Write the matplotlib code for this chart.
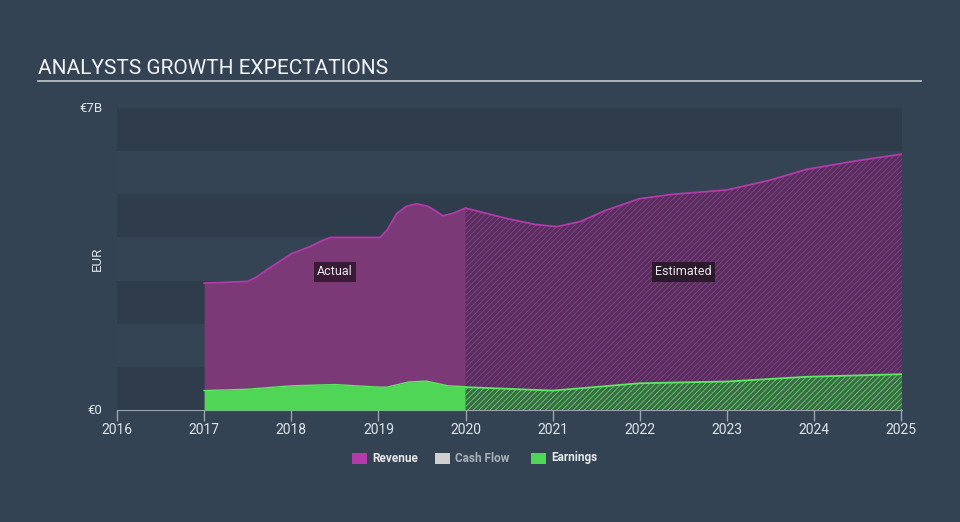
import matplotlib
matplotlib.use('Agg')
import matplotlib.pyplot as plt
from matplotlib.patches import Rectangle

plt.rcParams['font.family'] = ['Roboto', 'DejaVu Sans']
plt.rcParams['hatch.linewidth'] = 0.6

# values (EUR billions)
rev_actual_x = [2017.0, 2017.5, 2017.6, 2017.75, 2018.0, 2018.22, 2018.35, 2018.45, 2019.02,
                2019.1, 2019.21, 2019.32, 2019.44, 2019.57, 2019.63, 2019.74, 2019.86, 2020.0]
rev_actual_y = [2.94, 2.98, 3.08, 3.29, 3.62, 3.79, 3.92, 4.0, 4.0,
                4.17, 4.55, 4.72, 4.78, 4.72, 4.65, 4.5, 4.56, 4.68]
rev_est_x = [2020.0, 2020.47, 2020.8, 2021.05, 2021.32, 2021.6, 2022.0, 2022.38, 2023.0,
             2023.5, 2023.92, 2024.5, 2025.01]
rev_est_y = [4.68, 4.44, 4.3, 4.25, 4.37, 4.62, 4.9, 5.0, 5.1, 5.33, 5.58, 5.78, 5.93]

earn_actual_x = [2017.0, 2017.49, 2018.0, 2018.5, 2019.0, 2019.1, 2019.35, 2019.55, 2019.8, 2020.0]
earn_actual_y = [0.45, 0.48, 0.56, 0.59, 0.53, 0.53, 0.65, 0.67, 0.56, 0.54]
earn_est_x = [2020.0, 2021.0, 2021.3, 2022.0, 2023.0, 2023.92, 2025.01]
earn_est_y = [0.53, 0.45, 0.50, 0.62, 0.66, 0.77, 0.83]

years = list(range(2016, 2026))
legend_items = ['Revenue', 'Cash Flow', 'Earnings']

bg = '#334354'
band_dark = '#2e3c4b'
band_light = '#344455'
purple = '#7b3977'
purple_line = '#b53aa9'
green = '#50d656'
green_line = '#5ce861'

fig = plt.figure(figsize=(9.6, 5.22), dpi=100)
fig.patch.set_facecolor(bg)
ax = fig.add_axes([117 / 960, 112 / 522, 785 / 960, 302 / 522])
ax.set_facecolor(bg)

# horizontal bands
for i in range(7):
    ax.axhspan(i, i + 1, color=band_dark if i % 2 == 0 else band_light, lw=0, zorder=0)

# actual
ax.fill_between(rev_actual_x, 0, rev_actual_y, color=purple, lw=0, zorder=2)
ax.plot(rev_actual_x, rev_actual_y, color=purple_line, lw=1.3, zorder=3)
ax.fill_between(earn_actual_x, 0, earn_actual_y, color=green, lw=0, zorder=4)
ax.plot(earn_actual_x, earn_actual_y, color=green_line, lw=1.0, zorder=5)

# estimated (hatched)
ax.fill_between(rev_est_x, 0, rev_est_y, facecolor='#572f5e', edgecolor='#8c3d88',
                hatch='//////', lw=0, zorder=2)
ax.plot(rev_est_x, rev_est_y, color=purple_line, lw=1.3, zorder=3)
ax.fill_between(earn_est_x, 0, earn_est_y, facecolor='#3e6a4a', edgecolor='#55d95b',
                hatch='//////', lw=0, zorder=4)
ax.plot(earn_est_x, earn_est_y, color=green_line, lw=1.3, zorder=5)

ax.set_xlim(2016, 2025.01)
ax.set_ylim(0, 7)

for s in ['top', 'right', 'left']:
    ax.spines[s].set_visible(False)
ax.spines['bottom'].set_color('#9aa4ae')
ax.set_xticks(years)
ax.set_xticklabels([str(y) for y in years])
ax.tick_params(axis='x', colors='#9aa4ae', length=8, width=1, labelcolor='#e0e4e8',
               labelsize=10, pad=1)
ax.set_yticks([])

ax.text(2016 - 0.17, 7, '€7B', color='#e0e4e8', fontsize=9.5, ha='right', va='center')
ax.text(2016 - 0.17, 0, '€0', color='#e0e4e8', fontsize=9.5, ha='right', va='center')
ax.text(2016 - 0.15, 3.5, 'EUR', color='#e0e4e8', fontsize=9.5, ha='right', va='center',
        rotation=90)

ax.text(2018.5, 3.2, 'Actual', color='#e8e8e8', fontsize=9, ha='center', va='center', zorder=6,
        bbox=dict(boxstyle='square,pad=0.25', fc='#3a1b37', ec='none'))
ax.text(2022.5, 3.2, 'Estimated', color='#e8e8e8', fontsize=9, ha='center', va='center',
        zorder=6, bbox=dict(boxstyle='square,pad=0.25', fc='#2b1a2c', ec='none'))

# title and underline
fig.text(38 / 960, 1 - 68 / 522, 'ANALYSTS GROWTH EXPECTATIONS', color='#f0f2f4',
         fontsize=15, ha='left', va='center')
fig.add_artist(plt.Line2D([38 / 960, 921 / 960], [1 - 81 / 522, 1 - 81 / 522],
                          color='#b8bec5', lw=1.3))

# legend
leg_colors = [purple_line, '#d0d0d0', green]
leg_text_colors = ['#e8e8e8', '#a8b0b8', '#e8e8e8']
leg_x = [352, 435, 531]
for name, c, tc, lx in zip(legend_items, leg_colors, leg_text_colors, leg_x):
    fig.add_artist(Rectangle((lx / 960, 1 - 464 / 522), 15 / 960, 11 / 522,
                             facecolor=c, edgecolor='none'))
    fig.text((lx + 20) / 960, 1 - 458 / 522, name, color=tc, fontsize=8.5,
             fontweight='bold', ha='left', va='center')

fig.savefig('out.png', dpi=100, facecolor=bg)
